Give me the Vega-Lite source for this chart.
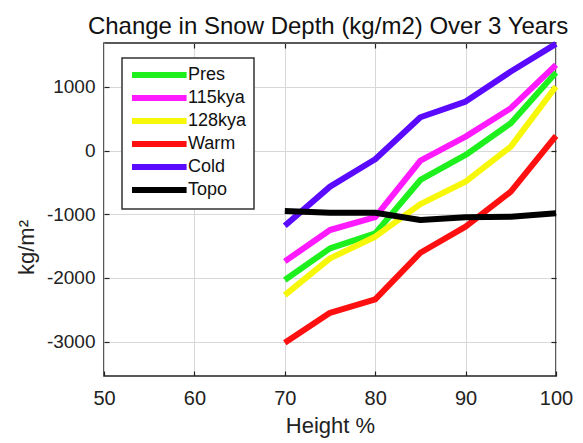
{
  "$schema": "https://vega.github.io/schema/vega-lite/v6.json",
  "width": 452,
  "height": 333,
  "autosize": {"type": "none"},
  "padding": {"left": 104, "top": 43, "right": 27, "bottom": 67},
  "background": "white",
  "title": {
    "text": "Change in Snow Depth (kg/m2) Over 3 Years",
    "font": "Liberation Sans",
    "fontSize": 24,
    "fontWeight": "normal",
    "color": "#111",
    "anchor": "middle",
    "frame": "group",
    "baseline": "alphabetic",
    "offset": 11,
    "dx": -2,
    "dy": 28
  },
  "config": {
    "font": "Liberation Sans",
    "view": {"stroke": "#222", "strokeWidth": 1.5},
    "legend": {"strokeWidth": 1.5},
    "axis": {
      "labelFont": "Liberation Sans",
      "titleFont": "Liberation Sans",
      "labelColor": "#222",
      "titleColor": "#222",
      "titleFontWeight": "normal",
      "domain": false,
      "tickColor": "#222",
      "tickWidth": 1.2,
      "labelFlush": false,
      "labelExpr": "'' + datum.value"
    }
  },
  "data": {
    "values": [
      {"h": 70, "v": -2033, "s": "Pres"},
      {"h": 75, "v": -1535, "s": "Pres"},
      {"h": 80, "v": -1300, "s": "Pres"},
      {"h": 85, "v": -461, "s": "Pres"},
      {"h": 90, "v": -68, "s": "Pres"},
      {"h": 95, "v": 430, "s": "Pres"},
      {"h": 100, "v": 1226, "s": "Pres"},
      {"h": 70, "v": -1740, "s": "115kya"},
      {"h": 75, "v": -1247, "s": "115kya"},
      {"h": 80, "v": -1045, "s": "115kya"},
      {"h": 85, "v": -157, "s": "115kya"},
      {"h": 90, "v": 220, "s": "115kya"},
      {"h": 95, "v": 666, "s": "115kya"},
      {"h": 100, "v": 1347, "s": "115kya"},
      {"h": 70, "v": -2269, "s": "128kya"},
      {"h": 75, "v": -1693, "s": "128kya"},
      {"h": 80, "v": -1352, "s": "128kya"},
      {"h": 85, "v": -840, "s": "128kya"},
      {"h": 90, "v": -487, "s": "128kya"},
      {"h": 95, "v": 63, "s": "128kya"},
      {"h": 100, "v": 1006, "s": "128kya"},
      {"h": 70, "v": -3019, "s": "Warm"},
      {"h": 75, "v": -2547, "s": "Warm"},
      {"h": 80, "v": -2337, "s": "Warm"},
      {"h": 85, "v": -1604, "s": "Warm"},
      {"h": 90, "v": -1195, "s": "Warm"},
      {"h": 95, "v": -645, "s": "Warm"},
      {"h": 100, "v": 231, "s": "Warm"},
      {"h": 70, "v": -1180, "s": "Cold"},
      {"h": 75, "v": -566, "s": "Cold"},
      {"h": 80, "v": -136, "s": "Cold"},
      {"h": 85, "v": 524, "s": "Cold"},
      {"h": 90, "v": 770, "s": "Cold"},
      {"h": 95, "v": 1242, "s": "Cold"},
      {"h": 100, "v": 1677, "s": "Cold"},
      {"h": 70, "v": -949, "s": "Topo"},
      {"h": 75, "v": -975, "s": "Topo"},
      {"h": 80, "v": -975, "s": "Topo"},
      {"h": 85, "v": -1090, "s": "Topo"},
      {"h": 90, "v": -1048, "s": "Topo"},
      {"h": 95, "v": -1038, "s": "Topo"},
      {"h": 100, "v": -985, "s": "Topo"}
    ]
  },
  "layer": [
    {
      "mark": {"type": "line", "strokeWidth": 6, "strokeJoin": "round", "strokeCap": "butt"},
      "encoding": {
        "x": {
          "field": "h", "type": "quantitative",
          "scale": {"domain": [50, 100], "nice": false, "zero": false},
          "axis": {
            "title": "Height %", "titleFontSize": 22, "titlePadding": 7,
            "values": [50, 60, 70, 80, 90, 100],
            "labelFontSize": 20, "labelPadding": 17, "tickSize": -5,
            "grid": true, "gridColor": "#d8d8d8", "gridWidth": 1
          }
        },
        "y": {
          "field": "v", "type": "quantitative",
          "scale": {"domain": [-3540, 1690], "nice": false, "zero": false},
          "axis": {
            "title": "kg/m²", "titleFontSize": 22, "titleAngle": -90,
            "titleX": -66, "titleY": 204, "titleAlign": "center", "titleBaseline": "bottom",
            "values": [-3000, -2000, -1000, 0, 1000],
            "labelFontSize": 19, "labelPadding": 14, "tickSize": -5,
            "grid": true, "gridColor": "#d8d8d8", "gridWidth": 1
          }
        },
        "color": {
          "field": "s", "type": "nominal",
          "scale": {
            "domain": ["Pres", "115kya", "128kya", "Warm", "Cold", "Topo"],
            "range": ["#1ef01e", "#ff1aff", "#f7f70a", "#ff1010", "#5a0aff", "#000000"]
          },
          "legend": {
            "title": null,
            "orient": "none",
            "legendX": 18,
            "legendY": 15,
            "fillColor": "white",
            "strokeColor": "#333",
            "padding": 7,
            "symbolType": "M-1,0H6.8",
            "symbolSize": 196,
            "symbolStrokeWidth": 6,
            "labelOffset": 39,
            "labelFontSize": 18,
            "labelColor": "#111",
            "rowPadding": -1,
            "labelFont": "Liberation Sans"
          }
        }
      }
    },
    {
      "mark": {"type": "line", "opacity": 0},
      "encoding": {
        "x": {
          "field": "h", "type": "quantitative",
          "axis": {"orient": "top", "title": null, "labels": false, "values": [60, 70, 80, 90], "tickSize": -5, "grid": false}
        },
        "y": {
          "field": "v", "type": "quantitative",
          "axis": {"orient": "right", "title": null, "labels": false, "values": [-3000, -2000, -1000, 0, 1000], "tickSize": -5, "grid": false}
        }
      }
    }
  ],
  "resolve": {"axis": {"x": "independent", "y": "independent"}}
}
